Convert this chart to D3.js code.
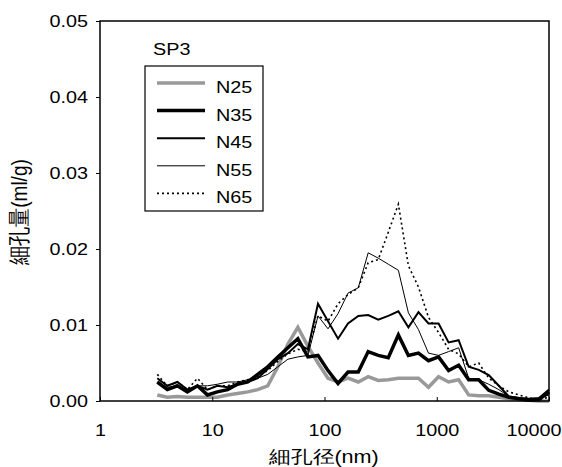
<!DOCTYPE html>
<html>
<head>
<meta charset="utf-8">
<script src="https://cdn.jsdelivr.net/npm/d3@7"></script>
<style>
  body { margin: 0; background: #fff; }
  svg text { font-family: "Liberation Sans", Arial, sans-serif; fill: #000; }
</style>
</head>
<body>
<div class="chart"></div>
<script>
// pore diameter (nm)
var diameters = [3.24, 3.98, 4.89, 6.00, 7.38, 9.07, 11.1, 13.7, 16.8, 20.7,
  25.4, 31.2, 38.4, 47.2, 57.9, 71.2, 87.5, 107.5, 132, 162,
  200, 245, 301, 370, 455, 559, 687, 844, 1038, 1275,
  1567, 1925, 2366, 2907, 3573, 4391, 5395, 6630, 8147, 10000];

var n25 = [0.0008, 0.0005, 0.0006, 0.0005, 0.0005, 0.0005, 0.0005, 0.0008, 0.001, 0.0012,
  0.0015, 0.002, 0.0045, 0.0075, 0.0097, 0.0072, 0.005, 0.003, 0.0025, 0.003,
  0.0025, 0.0032, 0.0027, 0.0028, 0.003, 0.003, 0.003, 0.0018, 0.0032, 0.0025,
  0.0028, 0.0008, 0.0007, 0.0007, 0.0005, 0.0003, 0.0002, 0.0001, 0.0, 0.0];
var n35 = [0.0025, 0.0015, 0.002, 0.0012, 0.002, 0.0008, 0.0012, 0.0015, 0.0022, 0.0025,
  0.0035, 0.0045, 0.0058, 0.007, 0.0082, 0.0058, 0.006, 0.004, 0.0023, 0.0038,
  0.0038, 0.0065, 0.006, 0.0057, 0.0087, 0.006, 0.0063, 0.0053, 0.0058, 0.004,
  0.0047, 0.0028, 0.0028, 0.0014, 0.0009, 0.0005, 0.0003, 0.0001, 0.0002, 0.0012];
var n45 = [0.003, 0.002, 0.0025, 0.0015, 0.002, 0.0015, 0.002, 0.0018, 0.0022, 0.0025,
  0.003, 0.0042, 0.0055, 0.0063, 0.0075, 0.0068, 0.0128, 0.0105, 0.0082, 0.0102,
  0.0112, 0.0113, 0.0107, 0.0112, 0.0118, 0.0097, 0.0117, 0.0102, 0.0102, 0.0077,
  0.008, 0.0045, 0.0041, 0.0034, 0.002, 0.0006, 0.0004, 0.0003, 0.0004, 0.0015];
var n55 = [0.0025, 0.0018, 0.002, 0.0015, 0.002, 0.002, 0.0022, 0.0025, 0.0025, 0.0028,
  0.003, 0.0035, 0.0045, 0.0055, 0.0058, 0.006, 0.0112, 0.0095, 0.0115, 0.0142,
  0.0149, 0.0195, 0.0188, 0.018, 0.0172, 0.0116, 0.0094, 0.0063, 0.006, 0.0065,
  0.007, 0.003, 0.0028, 0.0022, 0.0015, 0.0006, 0.0003, 0.0002, 0.0003, 0.0008];
var n65 = [0.0035, 0.002, 0.0025, 0.0015, 0.003, 0.0015, 0.002, 0.002, 0.0025, 0.0028,
  0.0032, 0.004, 0.0052, 0.0062, 0.0068, 0.0065, 0.0112, 0.0105, 0.0128, 0.014,
  0.0149, 0.0182, 0.0186, 0.0222, 0.0259, 0.0178, 0.015, 0.011, 0.009, 0.0068,
  0.0062, 0.0045, 0.005, 0.003, 0.002, 0.0012, 0.0008, 0.0004, 0.0002, 0.0005];

var seriesNames = ["N25", "N35", "N45", "N55", "N65"];
var xTicks = [1, 10, 100, 1000, 10000];
var yTicks = [0, 0.01, 0.02, 0.03, 0.04, 0.05];

var styles = {
  N25: {stroke: "#999", width: 3.5, dash: null},
  N35: {stroke: "#000", width: 3.5, dash: null},
  N45: {stroke: "#000", width: 2, dash: null},
  N55: {stroke: "#000", width: 1, dash: null},
  N65: {stroke: "#000", width: 1.6, dash: "2,3"}
};

var data = [n25, n35, n45, n55, n65].map(function(vals, i) {
  return {name: seriesNames[i], values: vals.map(function(v, j) { return {x: diameters[j], y: v}; })};
});

var width = 562, height = 467;
var plotLeft = 100, plotRight = 549, plotTop = 21, plotBottom = 401;
var stretchX = 1.2;   // the original text is rendered wider than normal
var fontSize = "16.5px";

// widen a text horizontally about its own x position
function stretch(sel) {
  sel.each(function() {
    var t = d3.select(this);
    var x = +(t.attr("x") || 0);
    t.attr("x", x / stretchX)
      .attr("transform", (t.attr("transform") || "") + ` scale(${stretchX},1)`);
  });
}

var svg = d3.select(".chart").append("svg")
  .attr("width", width)
  .attr("height", height);

var xScale = d3.scaleLog().domain([1, 10000]).range([plotLeft, plotRight]);
var yScale = d3.scaleLinear().domain([0, 0.05]).range([plotBottom, plotTop]);

/* lines */
var line = d3.line()
  .x(d => xScale(d.x))
  .y(d => yScale(d.y));

svg.append("g").selectAll("path")
  .data(data).enter()
  .append("path")
  .attr("d", d => line(d.values))
  .attr("fill", "none")
  .attr("stroke", d => styles[d.name].stroke)
  .attr("stroke-width", d => styles[d.name].width)
  .attr("stroke-dasharray", d => styles[d.name].dash)
  .attr("stroke-linejoin", "miter");

/* frame */
svg.append("rect")
  .attr("x", plotLeft).attr("y", plotTop)
  .attr("width", plotRight - plotLeft).attr("height", plotBottom - plotTop)
  .attr("fill", "none").attr("stroke", "#000").attr("stroke-width", 1.5);

/* axes */
var yAxis = d3.axisLeft(yScale).tickValues(yTicks).tickFormat(d3.format(".2f")).tickSize(4).tickPadding(8);
svg.append("g")
  .attr("transform", `translate(${plotLeft},0)`)
  .call(yAxis)
  .call(g => g.select(".domain").remove())
  .selectAll("text").style("font-size", fontSize).call(stretch);

var xAxis = d3.axisBottom(xScale).tickValues(xTicks).tickFormat(d3.format("d")).tickSize(-4).tickPadding(23);
var gx = svg.append("g")
  .attr("transform", `translate(0,${plotBottom})`)
  .call(xAxis)
  .call(g => g.select(".domain").remove());
gx.selectAll(".tick").filter(d => d === 10000).select("text")
  .attr("text-anchor", "end").attr("x", 12);
gx.selectAll("text").style("font-size", fontSize).call(stretch);

/* titles */
svg.append("text")
  .attr("x", 324).attr("y", 463)
  .attr("text-anchor", "middle")
  .style("font-size", "18px")
  .text("細孔径(nm)")
  .call(stretch);

svg.append("text")
  .attr("transform", `translate(27,212) rotate(-90) scale(1,${stretchX})`)
  .attr("text-anchor", "middle")
  .style("font-size", "19px")
  .text("細孔量(ml/g)");

/* legend */
svg.append("text")
  .attr("x", 153).attr("y", 55)
  .style("font-size", fontSize)
  .text("SP3")
  .call(stretch);

var legend = svg.append("g");
legend.append("rect")
  .attr("x", 145).attr("y", 66).attr("width", 118).attr("height", 145)
  .attr("fill", "#fff").attr("stroke", "#000").attr("stroke-width", 1.2);

var items = legend.selectAll(".item")
  .data(seriesNames).enter()
  .append("g")
  .attr("transform", (d, i) => `translate(0,${83 + i * 27.6})`);
items.append("line")
  .attr("x1", 157).attr("x2", 205)
  .attr("stroke", d => styles[d].stroke)
  .attr("stroke-width", d => styles[d].width)
  .attr("stroke-dasharray", d => styles[d].dash);
items.append("text")
  .attr("x", 216).attr("y", 10)
  .style("font-size", fontSize)
  .text(d => d)
  .call(stretch);
</script>
</body>
</html>
